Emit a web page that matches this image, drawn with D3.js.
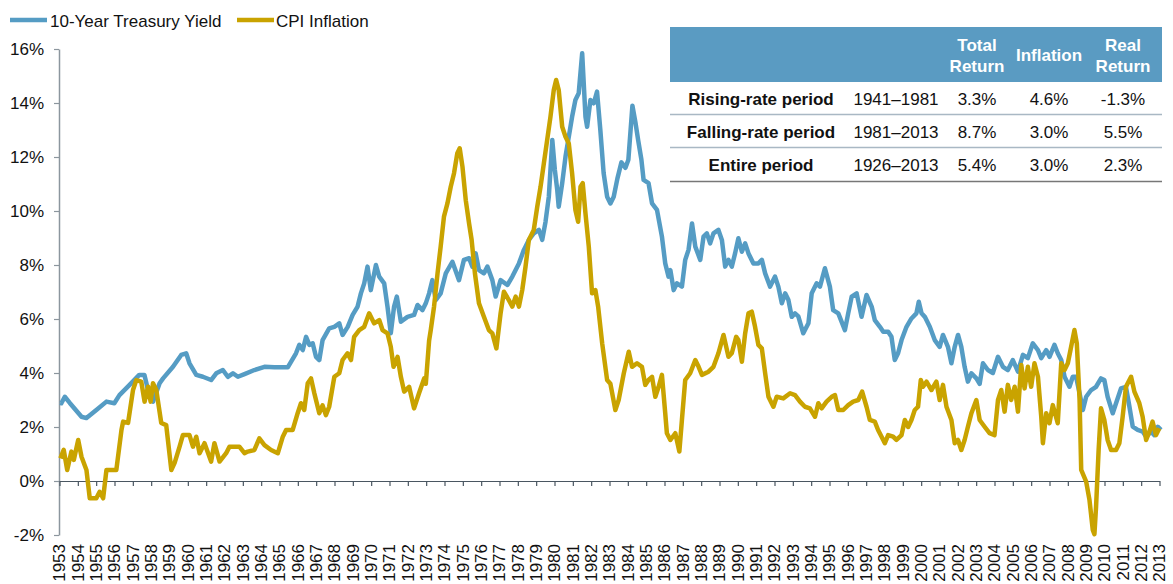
<!DOCTYPE html>
<html>
<head>
<meta charset="utf-8">
<script src="https://cdn.jsdelivr.net/npm/d3@7/dist/d3.min.js"></script>
<style>
  body { margin: 0; background: #fff; }
  svg { display: block; font-family: "Liberation Sans", Arial, sans-serif; }
</style>
</head>
<body>
<svg id="chart" width="1173" height="584"></svg>
<script>
// ---- data ----
const yearTicks = d3.range(1953, 2014);
const yTicks = [-2, 0, 2, 4, 6, 8, 10, 12, 14, 16];

const seriesNames = ["10-Year Treasury Yield", "CPI Inflation"];

const yieldDates = [1953.05,1953.1,1953.29,1953.56,1954.2,1954.47,1955.01,1955.56,1955.99,1956.27,1956.81,1957.35,1957.63,1957.83,1958.1,1958.46,1958.65,1959.19,1959.64,1959.91,1960.09,1960.46,1960.82,1961.27,1961.55,1961.91,1962.18,1962.46,1962.73,1963.09,1963.63,1964.18,1964.72,1965.45,1965.9,1966.08,1966.27,1966.45,1966.63,1966.81,1966.99,1967.17,1967.35,1967.71,1967.99,1968.26,1968.44,1968.72,1968.99,1969.26,1969.44,1969.62,1969.8,1969.98,1970.26,1970.44,1970.71,1970.89,1971.07,1971.25,1971.4,1971.62,1971.98,1972.34,1972.53,1972.8,1972.98,1973.16,1973.34,1973.52,1973.79,1974.07,1974.43,1974.79,1975.06,1975.34,1975.52,1975.7,1975.88,1976.15,1976.34,1976.61,1976.79,1977.06,1977.43,1977.7,1978.06,1978.33,1978.6,1978.87,1979.15,1979.33,1979.51,1979.69,1979.88,1980.02,1980.15,1980.23,1980.42,1980.6,1980.78,1980.96,1981.14,1981.32,1981.51,1981.69,1981.78,1981.96,1982.14,1982.32,1982.5,1982.68,1982.87,1983.05,1983.23,1983.43,1983.65,1983.87,1984.03,1984.25,1984.41,1984.57,1984.74,1984.86,1985.13,1985.32,1985.59,1985.86,1986.04,1986.22,1986.32,1986.5,1986.68,1986.95,1987.13,1987.31,1987.5,1987.68,1987.95,1988.13,1988.31,1988.49,1988.67,1988.94,1989.13,1989.31,1989.49,1989.67,1989.85,1990.03,1990.22,1990.4,1990.58,1990.85,1991.12,1991.31,1991.49,1991.76,1992.03,1992.21,1992.4,1992.58,1992.76,1992.94,1993.12,1993.3,1993.57,1993.85,1994.03,1994.3,1994.48,1994.75,1995.02,1995.2,1995.48,1995.84,1996.02,1996.21,1996.48,1996.75,1997.02,1997.3,1997.47,1997.75,1997.93,1998.2,1998.38,1998.56,1998.74,1998.93,1999.2,1999.47,1999.74,1999.87,2000.02,2000.2,2000.47,2000.74,2001.01,2001.19,2001.46,2001.65,2001.83,2002.01,2002.19,2002.37,2002.55,2002.74,2003.01,2003.19,2003.37,2003.64,2003.91,2004.19,2004.46,2004.73,2005.0,2005.28,2005.55,2005.82,2006.09,2006.37,2006.55,2006.82,2007.0,2007.27,2007.45,2007.64,2007.82,2008.09,2008.27,2008.45,2008.64,2008.82,2009.0,2009.27,2009.54,2009.81,2009.99,2010.17,2010.45,2010.63,2010.9,2011.17,2011.36,2011.54,2011.81,2012.08,2012.27,2012.54,2012.72,2012.9,2013.08];
const yieldValues = [2.9,2.88,3.12,2.89,2.38,2.33,2.63,2.94,2.88,3.18,3.55,3.93,3.93,3.37,2.94,3.62,3.8,4.23,4.67,4.73,4.36,3.93,3.86,3.74,3.99,4.11,3.86,3.99,3.86,3.96,4.11,4.23,4.21,4.21,4.73,5.04,4.85,5.34,5.04,5.1,4.6,4.48,5.22,5.65,5.71,5.84,5.41,5.71,6.15,6.46,6.95,7.32,7.94,7.07,8.0,7.57,7.32,6.46,5.47,6.46,6.83,5.9,6.08,6.15,6.52,6.33,6.58,6.95,7.44,6.7,6.95,7.69,8.12,7.44,8.19,8.25,7.94,8.43,7.81,7.69,7.94,7.44,6.83,7.44,7.26,7.57,8.06,8.56,8.93,9.17,9.3,8.93,9.6,10.53,12.63,11.52,10.78,10.16,11.03,12.01,12.75,13.49,14.11,14.36,15.84,13.49,13.12,14.11,13.99,14.42,13.0,11.4,10.53,10.28,10.53,11.2,11.8,11.6,11.9,13.9,13.3,12.6,11.9,11.15,11.03,10.28,10.04,9.05,8.06,7.57,7.81,7.07,7.32,7.2,8.19,8.56,9.54,8.68,8.19,9.05,9.17,8.8,9.17,9.3,8.93,7.94,8.19,7.94,8.43,8.99,8.49,8.8,8.43,8.06,8.06,8.19,7.69,7.2,7.57,7.2,6.58,6.95,6.7,6.08,6.21,6.1,5.47,5.84,6.95,7.32,7.2,7.88,7.2,6.33,6.21,5.59,6.21,6.83,6.95,6.08,6.89,6.46,5.96,5.71,5.53,5.53,5.34,4.48,4.73,5.22,5.71,6.02,6.21,6.64,6.21,6.08,5.71,5.22,4.97,5.41,4.97,4.36,4.97,5.41,4.97,4.23,3.68,3.99,3.8,3.6,4.36,4.11,4.0,4.6,4.23,4.11,4.48,4.05,4.67,4.55,5.1,4.85,4.55,4.85,4.6,5.04,4.73,4.48,3.86,3.49,3.86,3.86,3.25,2.63,3.12,3.37,3.49,3.8,3.74,3.12,2.51,2.88,3.43,3.49,2.75,2.01,1.89,1.83,1.64,1.83,1.7,2.01,1.89];

const cpiDates = [1953.05,1953.23,1953.42,1953.65,1953.78,1954.02,1954.2,1954.47,1954.65,1955.01,1955.19,1955.38,1955.56,1956.1,1956.38,1956.47,1956.74,1957.01,1957.19,1957.46,1957.64,1957.83,1957.97,1958.1,1958.28,1958.55,1958.82,1959.1,1959.28,1959.55,1959.73,1960.09,1960.28,1960.46,1960.64,1960.91,1961.27,1961.45,1961.73,1962.09,1962.27,1962.81,1963.09,1963.27,1963.63,1963.9,1964.18,1964.54,1964.91,1965.18,1965.36,1965.72,1965.99,1966.17,1966.35,1966.54,1966.72,1966.9,1967.17,1967.35,1967.53,1967.71,1967.99,1968.26,1968.44,1968.71,1968.9,1969.07,1969.35,1969.62,1969.89,1970.16,1970.44,1970.62,1970.89,1971.07,1971.22,1971.44,1971.62,1971.8,1972.07,1972.34,1972.61,1972.89,1972.98,1973.16,1973.25,1973.43,1973.62,1973.79,1973.97,1974.16,1974.34,1974.52,1974.7,1974.83,1974.98,1975.16,1975.34,1975.48,1975.66,1975.88,1976.15,1976.42,1976.61,1976.83,1977.06,1977.24,1977.51,1977.7,1977.88,1978.06,1978.24,1978.42,1978.6,1978.87,1979.06,1979.24,1979.42,1979.6,1979.78,1979.96,1980.09,1980.23,1980.42,1980.6,1980.78,1980.96,1981.14,1981.29,1981.42,1981.54,1981.69,1981.87,1982.05,1982.23,1982.38,1982.6,1982.87,1983.05,1983.32,1983.5,1983.78,1984.05,1984.23,1984.5,1984.77,1984.95,1985.13,1985.32,1985.5,1985.68,1985.86,1986.04,1986.13,1986.32,1986.59,1986.81,1986.95,1987.13,1987.4,1987.68,1987.86,1988.04,1988.4,1988.67,1988.94,1989.22,1989.49,1989.67,1989.91,1990.03,1990.22,1990.4,1990.58,1990.76,1990.94,1991.12,1991.31,1991.49,1991.67,1991.94,1992.12,1992.48,1992.85,1993.12,1993.39,1993.66,1993.93,1994.21,1994.39,1994.57,1994.84,1995.12,1995.3,1995.48,1995.75,1996.02,1996.29,1996.57,1996.78,1997.02,1997.2,1997.47,1997.65,1997.84,1998.02,1998.2,1998.47,1998.65,1998.93,1999.11,1999.29,1999.47,1999.65,1999.83,1999.98,2000.1,2000.29,2000.56,2000.83,2001.01,2001.19,2001.38,2001.65,2001.83,2002.01,2002.19,2002.37,2002.55,2002.74,2003.01,2003.19,2003.46,2003.73,2004.0,2004.19,2004.37,2004.55,2004.73,2004.91,2005.1,2005.28,2005.46,2005.64,2005.82,2006.0,2006.18,2006.37,2006.55,2006.64,2006.82,2007.0,2007.18,2007.45,2007.64,2007.82,2008.0,2008.18,2008.36,2008.49,2008.64,2008.73,2009.0,2009.18,2009.36,2009.45,2009.54,2009.68,2009.81,2009.99,2010.17,2010.36,2010.63,2010.81,2010.99,2011.17,2011.45,2011.63,2011.9,2012.08,2012.27,2012.45,2012.62,2012.81,2012.99];
const cpiValues = [0.84,1.15,0.41,1.09,0.78,1.52,0.9,0.41,-0.64,-0.64,-0.4,-0.64,0.41,0.41,1.89,2.2,2.15,3.37,3.74,3.68,2.94,3.49,2.94,3.62,3.37,2.15,2.07,0.41,0.67,1.27,1.7,1.7,1.27,1.64,1.03,1.4,0.72,1.4,0.72,1.03,1.27,1.27,1.03,1.09,1.15,1.58,1.33,1.15,1.03,1.64,1.89,1.89,2.51,2.88,2.63,3.62,3.8,3.25,2.51,2.8,2.44,2.75,3.86,3.99,4.48,4.73,4.48,5.34,5.59,5.71,6.21,5.84,5.96,5.59,5.47,4.97,4.23,4.6,3.86,3.31,3.49,2.69,3.25,3.8,3.6,5.2,5.59,6.46,7.69,8.68,9.79,10.28,10.9,11.4,12.14,12.32,11.64,10.4,9.54,8.93,7.69,6.58,6.08,5.59,5.47,4.91,6.21,7.01,6.7,6.46,6.83,6.46,7.07,7.94,8.93,9.3,10.16,10.9,11.77,12.63,13.49,14.48,14.85,14.48,13.12,12.75,12.5,11.4,10.04,9.6,10.9,11.03,9.91,8.68,6.95,7.07,6.46,5.1,3.74,3.6,2.63,3.0,3.99,4.79,4.23,4.36,4.23,3.56,3.74,3.86,3.12,3.49,3.93,2.51,1.77,1.52,1.77,1.09,2.26,3.74,3.99,4.48,4.23,3.93,4.05,4.23,4.73,5.41,4.6,4.73,5.34,5.22,4.42,5.47,6.21,6.27,5.71,5.04,4.91,3.99,3.12,2.75,3.12,3.06,3.25,3.18,2.94,2.75,2.69,2.38,2.88,2.69,2.94,3.12,3.18,2.63,2.63,2.81,2.94,3.0,3.31,2.75,2.26,2.2,1.89,1.64,1.4,1.7,1.64,1.52,1.7,2.26,2.0,2.26,2.63,2.75,3.74,3.49,3.68,3.37,3.68,3.0,3.56,2.75,2.26,1.4,1.52,1.15,1.52,2.01,2.51,3.0,2.26,2.01,1.77,1.7,3.0,3.37,2.57,3.56,3.0,3.49,2.57,4.3,3.43,4.23,3.49,4.36,3.86,2.38,1.4,2.51,2.14,2.81,2.14,4.36,4.11,4.36,4.97,5.59,5.1,3.0,0.41,-0.02,-0.7,-1.81,-1.97,-0.95,1.15,2.69,2.26,1.52,1.15,1.15,1.4,2.38,3.49,3.86,3.31,2.88,2.38,1.52,1.83,2.2,1.7,1.95];

const tableHeader = ["", "", "Total\nReturn", "Inflation", "Real\nReturn"];
const tablePeriods = ["Rising-rate period", "Falling-rate period", "Entire period"];
const tableYears = ["1941\u20131981", "1981\u20132013", "1926\u20132013"];
const tableTotal = ["3.3%", "8.7%", "5.4%"];
const tableInflation = ["4.6%", "3.0%", "3.0%"];
const tableReal = ["-1.3%", "5.5%", "2.3%"];

// ---- setup ----
const blue = "#559CC4";
const gold = "#C9A300";
const svg = d3.select("#chart");

const x = d3.scaleLinear().domain([1953, 2013]).range([59.5, 1159.5]);
const y = d3.scaleLinear().domain([-2, 16]).range([535, 49]);

// y axis
const yAxis = svg.append("g")
  .attr("transform", "translate(59,0)")
  .call(d3.axisLeft(y).tickValues(yTicks).tickSize(5).tickSizeOuter(0).tickPadding(10)
    .tickFormat(d => d + "%"));
yAxis.select(".domain").attr("stroke", "#8C969E").attr("stroke-width", 1.5);
yAxis.selectAll(".tick line").attr("stroke", "#8C969E").attr("stroke-width", 1.2);
yAxis.selectAll("text").attr("font-size", 17).attr("fill", "#111")
  .attr("font-family", "'Liberation Sans', Arial, sans-serif");

// x axis along 0%
const xAxis = svg.append("g")
  .attr("transform", `translate(0,${y(0)})`)
  .call(d3.axisBottom(x).tickValues(yearTicks).tickSize(5).tickSizeOuter(0).tickFormat(""));
xAxis.select(".domain").attr("stroke", "#4A5661").attr("stroke-width", 1.2);
xAxis.selectAll(".tick line").attr("stroke", "#4A5661").attr("stroke-width", 1.2);

// year labels at the bottom, rotated
svg.append("g").selectAll("text")
  .data(yearTicks)
  .enter().append("text")
  .attr("transform", d => `translate(${x(d)},544) rotate(-90)`)
  .attr("text-anchor", "end")
  .attr("dy", "0.35em")
  .attr("font-size", 17)
  .attr("fill", "#111")
  .text(d => d);

// lines
const line = d3.line().x(d => x(d[0])).y(d => y(d[1]));

svg.append("path")
  .datum(d3.zip(yieldDates, yieldValues))
  .attr("fill", "none")
  .attr("stroke", blue)
  .attr("stroke-width", 4.5)
  .attr("stroke-linejoin", "round")
  .attr("d", line);

svg.append("path")
  .datum(d3.zip(cpiDates, cpiValues))
  .attr("fill", "none")
  .attr("stroke", gold)
  .attr("stroke-width", 4.5)
  .attr("stroke-linejoin", "round")
  .attr("d", line);

// legend
const legend = svg.append("g");
[[blue, 10, 50], [gold, 237, 276]].forEach((c, i) => {
  legend.append("line")
    .attr("x1", c[1]).attr("x2", c[1] + 37)
    .attr("y1", 20).attr("y2", 20)
    .attr("stroke", c[0]).attr("stroke-width", 4.5);
  legend.append("text")
    .attr("x", c[2]).attr("y", 26.5)
    .attr("font-size", 17).attr("fill", "#111")
    .text(seriesNames[i]);
});

// table
const colX = [761, 896, 977, 1049, 1123];
const rowY = [99.5, 132, 165];
const table = svg.append("g");

table.append("rect")
  .attr("x", 670).attr("y", 27).attr("width", 492).attr("height", 55)
  .attr("fill", "#5A9BC2");

tableHeader.forEach((h, i) => {
  const parts = h.split("\n");
  parts.forEach((p, j) => {
    table.append("text")
      .attr("x", colX[i])
      .attr("y", parts.length === 1 ? 55 : 45 + j * 21)
      .attr("dy", "0.35em")
      .attr("text-anchor", "middle")
      .attr("font-size", 17).attr("font-weight", "bold").attr("fill", "#fff")
      .text(p);
  });
});

const rows = d3.zip(tablePeriods, tableYears, tableTotal, tableInflation, tableReal);
rows.forEach((r, i) => {
  r.forEach((v, j) => {
    table.append("text")
      .attr("x", colX[j]).attr("y", rowY[i])
      .attr("dy", "0.35em")
      .attr("text-anchor", "middle")
      .attr("font-size", 17)
      .attr("font-weight", j === 0 ? "bold" : "normal")
      .attr("fill", "#111")
      .text(v);
  });
});

[114.5, 147.5].forEach(yy => {
  table.append("line")
    .attr("x1", 670).attr("x2", 1162).attr("y1", yy).attr("y2", yy)
    .attr("stroke", "#A9B8C4").attr("stroke-width", 1.5);
});
table.append("line")
  .attr("x1", 670).attr("x2", 1162).attr("y1", 181.5).attr("y2", 181.5)
  .attr("stroke", "#777").attr("stroke-width", 1.5);
</script>
</body>
</html>
